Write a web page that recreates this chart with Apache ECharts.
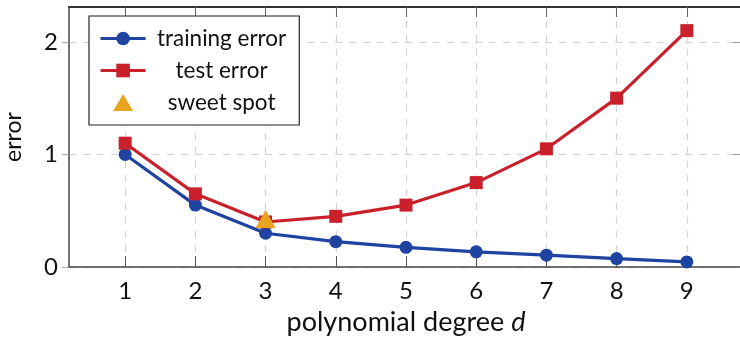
<!DOCTYPE html>
<html>
<head>
<meta charset="utf-8">
<script src="https://cdn.jsdelivr.net/npm/echarts@6/dist/echarts.min.js"></script>
<style>
  html, body { margin: 0; padding: 0; background: #fff; }
  #chart { width: 740px; height: 342px; }
</style>
</head>
<body>
<div id="chart"></div>
<script>
var degrees = [1, 2, 3, 4, 5, 6, 7, 8, 9];
var trainingError = [1.0, 0.55, 0.30, 0.225, 0.175, 0.135, 0.105, 0.075, 0.045];
var testError = [1.1, 0.65, 0.40, 0.45, 0.55, 0.75, 1.05, 1.5, 2.1];
var sweetSpot = [[3, 0.40]];
var yTicks = [0, 1, 2];

var FONT = 'Lato';
var blue = '#1f43a0';
var red = '#c9202b';
var orange = '#e9a31f';

function pairs(xs, ys) {
    return xs.map(function (x, i) { return [x, ys[i]]; });
}

var myChart = echarts.init(document.getElementById('chart'));

var option = {
    animation: false,
    textStyle: { fontFamily: FONT },
    grid: { left: 69, top: 7, width: 674, height: 260, containLabel: false, outerBoundsMode: 'none' },
    legend: {
        orient: 'vertical',
        left: 89,
        top: 16,
        padding: [11, 13, 11, 10],
        itemWidth: 45,
        itemHeight: 17,
        itemGap: 9,
        symbolKeepAspect: true,
        backgroundColor: '#fff',
        borderColor: '#222',
        borderWidth: 1.2,
        borderRadius: 0,
        lineStyle: { width: 3.2 },
        data: [
            { name: 'training error' },
            { name: 'test error' },
            { name: 'sweet spot', icon: 'path://M0,17L10,0L20,17Z' }
        ],
        formatter: function (name) { return '{t|' + name + '}'; },
        textStyle: {
            rich: {
                t: { width: 142, align: 'center', fontSize: 22.5, fontFamily: FONT, color: '#111', height: 20 }
            }
        }
    },
    xAxis: [{
        type: 'value',
        min: 0.2,
        max: 9.8,
        position: 'bottom',
        name: '{a|polynomial degree }{i|d}',
        nameLocation: 'middle',
        nameGap: 42,
        nameTextStyle: {
            rich: {
                a: { fontSize: 27, fontFamily: FONT, color: '#111' },
                i: { fontSize: 27, fontFamily: FONT, fontStyle: 'italic', color: '#111' }
            }
        },
        axisLine: { show: true, onZero: false, lineStyle: { color: '#444', width: 1.5 } },
        axisTick: { show: true, inside: true, length: 11, customValues: degrees, lineStyle: { color: '#555', width: 1 } },
        axisLabel: { customValues: degrees, fontSize: 24, color: '#111', margin: 12, fontFamily: FONT },
        splitLine: { show: true, lineStyle: { color: '#d4d4d4', type: [7, 7], width: 1.2 } }
    }, {
        type: 'value',
        min: 0.2,
        max: 9.8,
        position: 'top',
        axisLine: { show: true, onZero: false, lineStyle: { color: '#333', width: 1.8 } },
        axisTick: { show: true, inside: true, length: 10, customValues: degrees, lineStyle: { color: '#666', width: 1 } },
        axisLabel: { show: false },
        splitLine: { show: false }
    }],
    yAxis: [{
        type: 'value',
        min: 0,
        max: 2.31,
        position: 'left',
        name: 'error',
        nameLocation: 'middle',
        nameGap: 44,
        nameTextStyle: { fontSize: 23, color: '#111', fontFamily: FONT },
        axisLine: { show: true, onZero: false, lineStyle: { color: '#444', width: 1.5 } },
        axisTick: { show: true, inside: false, length: 7, customValues: yTicks, lineStyle: { color: '#aaa', width: 1 } },
        axisLabel: { customValues: yTicks, fontSize: 24, color: '#111', margin: 11, fontFamily: FONT },
        splitLine: { show: true, lineStyle: { color: '#d4d4d4', type: [7, 7], width: 1.2 } }
    }, {
        type: 'value',
        min: 0,
        max: 2.31,
        position: 'right',
        axisLine: { show: true, onZero: false, lineStyle: { color: '#444', width: 1.5 } },
        axisTick: { show: true, inside: true, length: 10, customValues: [1, 2], lineStyle: { color: '#999', width: 1 } },
        axisLabel: { show: false },
        splitLine: { show: false }
    }],
    series: [{
        name: 'training error',
        type: 'line',
        data: pairs(degrees, trainingError),
        symbol: 'circle',
        symbolSize: 13,
        lineStyle: { color: blue, width: 3.2 },
        itemStyle: { color: blue },
        z: 2
    }, {
        name: 'test error',
        type: 'line',
        data: pairs(degrees, testError),
        symbol: 'rect',
        symbolSize: 13,
        lineStyle: { color: red, width: 3.2 },
        itemStyle: { color: red },
        z: 3
    }, {
        name: 'sweet spot',
        type: 'scatter',
        data: sweetSpot,
        symbol: 'triangle',
        symbolSize: [20, 18],
        symbolOffset: [0, -3],
        itemStyle: { color: orange, opacity: 1 },
        z: 4
    }]
};

myChart.setOption(option);
</script>
</body>
</html>
